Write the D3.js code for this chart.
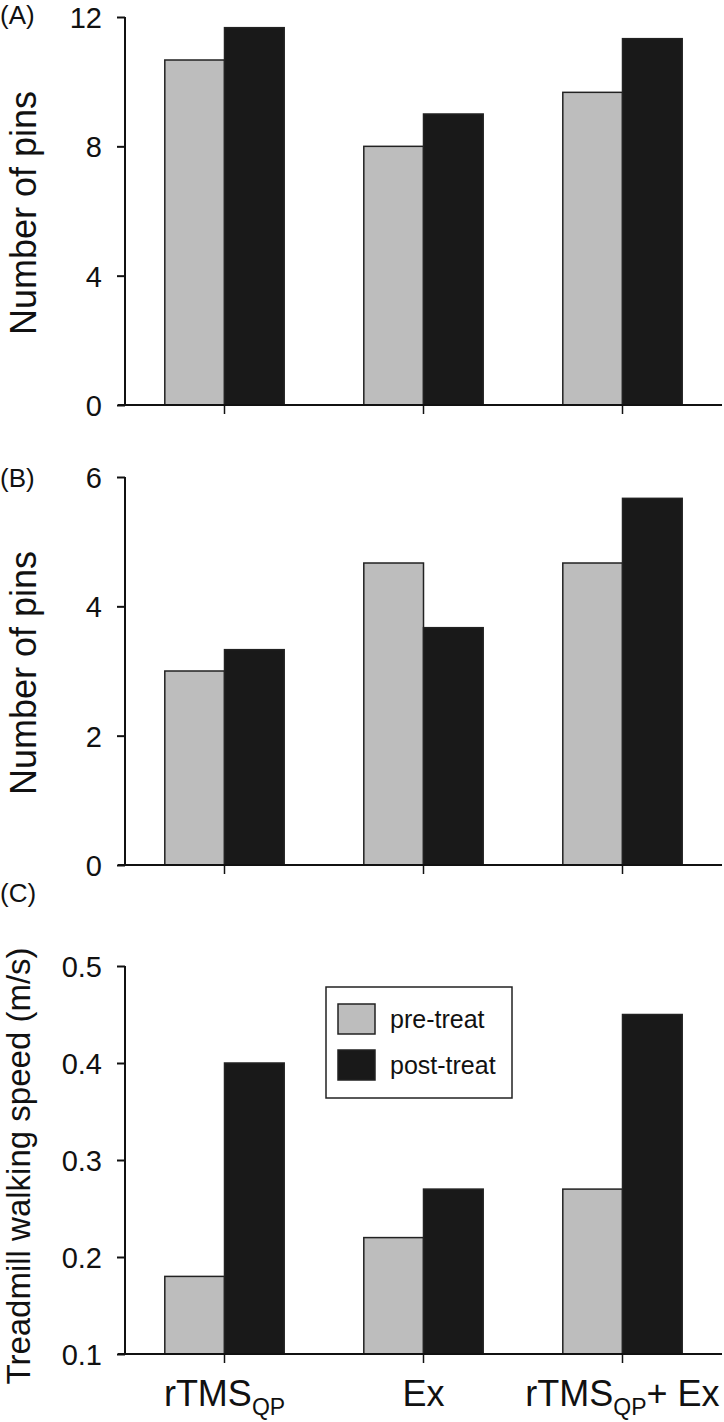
<!DOCTYPE html>
<html><head><meta charset="utf-8">
<script src="https://cdn.jsdelivr.net/npm/d3@7"></script>
<style>body{margin:0;background:#fff}svg{display:block}text{font-family:"Liberation Sans",Arial,sans-serif;fill:#111}</style>
</head><body>
<svg id="c" width="724" height="1422"></svg>
<script>
const categories = ["rTMS_QP", "Ex", "rTMS_QP+ Ex"];
const seriesNames = ["pre-treat", "post-treat"];
const panelA_pre = [10.67, 8.0, 9.67];
const panelA_post = [11.67, 9.0, 11.33];
const panelB_pre = [3.0, 4.67, 4.67];
const panelB_post = [3.33, 3.67, 5.67];
const panelC_pre = [0.18, 0.22, 0.27];
const panelC_post = [0.40, 0.27, 0.45];
const ticksA = [0, 4, 8, 12];
const ticksB = [0, 2, 4, 6];
const ticksC = [0.1, 0.2, 0.3, 0.4, 0.5];

const svg = d3.select("#c");
const colors = ["#bdbdbd", "#191919"];
const x0 = d3.scaleBand().domain(categories).range([125, 722]).paddingInner(0.4).paddingOuter(0.2);
const x1 = d3.scaleBand().domain(seriesNames).range([0, x0.bandwidth()]);

const panels = [
  {label:"(A)", pre:panelA_pre, post:panelA_post, domain:[0,12], range:[405,17], ticks:ticksA, fmt:d=>d, ylab:"Number of pins", labY:24, ylabX:36, ylabY:213, ylabSize:36},
  {label:"(B)", pre:panelB_pre, post:panelB_post, domain:[0,6], range:[865,477], ticks:ticksB, fmt:d=>d, ylab:"Number of pins", labY:487, ylabX:36, ylabY:673, ylabSize:36},
  {label:"(C)", pre:panelC_pre, post:panelC_post, domain:[0.1,0.5], range:[1354,966], ticks:ticksC, fmt:d3.format(".1f"), ylab:"Treadmill walking speed (m/s)", labY:902, ylabX:30, ylabY:1166, ylabSize:33}
];

panels.forEach((p, pi) => {
  const y = d3.scaleLinear().domain(p.domain).range(p.range);
  const g = svg.append("g");
  categories.forEach((c, i) => {
    [p.pre[i], p.post[i]].forEach((v, s) => {
      g.append("rect")
        .attr("x", x0(c) + x1(seriesNames[s]))
        .attr("y", y(v))
        .attr("width", x1.bandwidth())
        .attr("height", y(p.domain[0]) - y(v))
        .attr("fill", colors[s])
        .attr("stroke", "#222").attr("stroke-width", 1.5);
    });
  });
  const ya = d3.axisLeft(y).tickValues(p.ticks).tickFormat(p.fmt).tickSize(8).tickPadding(15);
  const yg = g.append("g").attr("transform", "translate(125,0)").call(ya);
  yg.select(".domain").attr("stroke", "#111").attr("stroke-width", 2).attr("d", `M-0,${p.range[0]}V${p.range[1]}`);
  yg.selectAll(".tick line").attr("stroke", "#111").attr("stroke-width", 2);
  yg.selectAll(".tick text").style("font-size", "29px").attr("fill", "#111").attr("dy", "0.36em");
  const xa = d3.axisBottom(x0).tickSize(9).tickFormat("");
  const xg = g.append("g").attr("transform", `translate(0,${p.range[0]})`).call(xa);
  xg.select(".domain").attr("stroke", "#111").attr("stroke-width", 2).attr("d", `M118,0H722`);
  xg.selectAll(".tick line").attr("stroke", "#111").attr("stroke-width", 1.5);
  svg.append("text").attr("x", 0).attr("y", p.labY).style("font-size", "26px").text(p.label);
  svg.append("text").attr("transform", `translate(${p.ylabX},${p.ylabY}) rotate(-90)`)
    .attr("text-anchor", "middle").style("font-size", p.ylabSize + "px").text(p.ylab);
});

categories.forEach(c => {
  const t = svg.append("text").attr("x", x0(c) + x0.bandwidth()/2).attr("y", 1406)
    .attr("text-anchor", "middle").style("font-size", "36px");
  const parts = c.split("_QP");
  if (parts.length > 1) {
    t.append("tspan").text(parts[0]);
    t.append("tspan").text("QP").attr("dy", 9).style("font-size", "23px");
    if (parts[1]) t.append("tspan").text(parts[1]).attr("dy", -9);
  } else {
    t.text(c);
  }
});

const lg = svg.append("g");
lg.append("rect").attr("x", 326).attr("y", 987).attr("width", 186).attr("height", 111)
  .attr("fill", "#fff").attr("stroke", "#222").attr("stroke-width", 1.5);
seriesNames.forEach((s, i) => {
  lg.append("rect").attr("x", 338).attr("y", 1004 + i*46).attr("width", 37).attr("height", 30)
    .attr("fill", colors[i]).attr("stroke", "#222").attr("stroke-width", 1.5);
  lg.append("text").attr("x", 390).attr("y", 1028 + i*46).style("font-size", "25px").text(s);
});
</script>
</body></html>
